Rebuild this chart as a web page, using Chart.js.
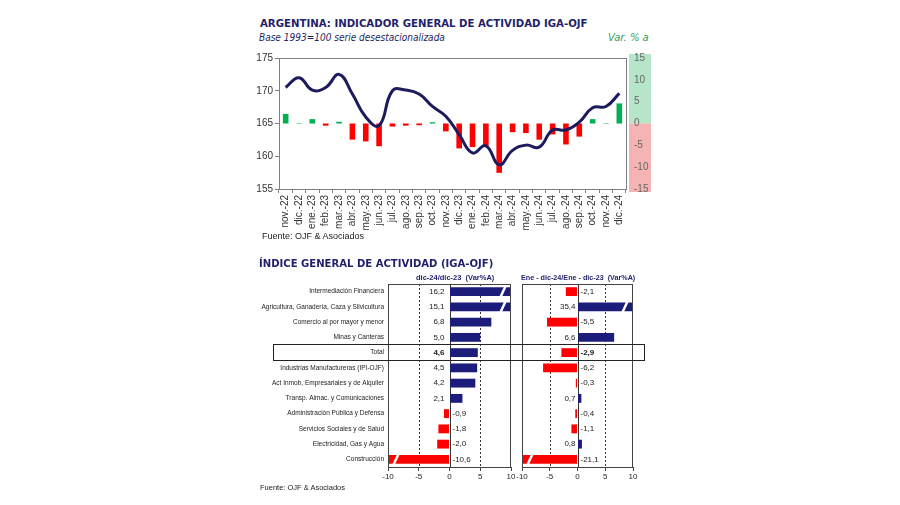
<!DOCTYPE html>
<html>
<head>
<meta charset="utf-8">
<script src="https://cdn.jsdelivr.net/npm/chart.js@4.4.1/dist/chart.umd.min.js"></script>
<style>
body { margin: 0; background: #fff; width: 900px; height: 505px; position: relative; overflow: hidden; }
.txt { position: absolute; white-space: nowrap; }
canvas { position: absolute; }
</style>
</head>
<body>
<div class="txt" style="left:260px;top:17px;font:bold 11.3px 'DejaVu Sans Condensed','DejaVu Sans';color:#1f1f6b;">ARGENTINA: INDICADOR GENERAL DE ACTIVIDAD IGA-OJF</div>
<div class="txt" style="left:259px;top:32px;font:italic 10px 'DejaVu Sans Condensed','DejaVu Sans';color:#1f1f5f;">Base 1993=100 serie desestacionalizada</div>
<div class="txt" style="left:608px;top:32px;font:italic 10px 'DejaVu Sans';color:#2e9e5e;">Var. % a</div>
<canvas id="c1" width="420" height="200" style="left:240px;top:44px;"></canvas>
<div class="txt" style="left:262px;top:231px;font:9px 'Liberation Sans',Arial;color:#222;">Fuente: OJF &amp; Asociados</div>

<div class="txt" style="left:259px;top:257px;font:bold 11.2px 'DejaVu Sans Condensed','DejaVu Sans';color:#1f1f6b;">ÍNDICE GENERAL DE ACTIVIDAD (IGA-OJF)</div>
<div class="txt" style="left:416px;top:273px;font:bold 7.5px 'Liberation Sans',Arial;color:#1f1f6b;">dic-24/dic-23&nbsp; (Var%A)</div>
<div class="txt" style="left:521px;top:273px;font:bold 7.2px 'Liberation Sans',Arial;color:#1f1f6b;">Ene - dic-24/Ene - dic-23&nbsp; (Var%A)</div>
<canvas id="c2" width="270" height="205" style="left:250px;top:280px;"></canvas>
<canvas id="c3" width="140" height="205" style="left:512px;top:280px;"></canvas>
<div style="position:absolute;left:273px;top:344px;width:372px;height:17px;box-sizing:border-box;border:1.5px solid #222;"></div>
<div class="txt" style="left:260px;top:483px;font:7.5px 'Liberation Sans',Arial;color:#222;">Fuente: OJF &amp; Asociados</div>

<script>
// serie mensual IGA-OJF
var months = ['nov.-22','dic.-22','ene.-23','feb.-23','mar.-23','abr.-23','may.-23','jun.-23',
    'jul.-23','ago.-23','sep.-23','oct.-23','nov.-23','dic.-23','ene.-24','feb.-24','mar.-24',
    'abr.-24','may.-24','jun.-24','jul.-24','ago.-24','sep.-24','oct.-24','nov.-24','dic.-24'];
var igaIndex = [170.5, 172.0, 170.1, 170.5, 172.5, 169.5, 166.0, 164.7, 170.0, 170.1, 169.5, 167.6, 166.1,
    163.3, 160.5, 161.6, 158.7, 160.9, 161.7, 161.4, 164.0, 164.0, 165.2, 167.4, 167.6, 169.6];
var igaVarYoY = [2.2, 0.1, 1.0, -0.5, 0.4, -3.7, -4.1, -5.2, -0.7, -0.5, -0.4, 0.3, -1.8,
    -5.7, -5.4, -5.2, -11.3, -2.0, -2.2, -3.7, -2.5, -4.8, -3.0, 1.0, 0.1, 4.6];

// apertura por sector
var sectors = ['Intermediación Financiera', 'Agricultura, Ganadería, Caza y Silvicultura',
    'Comercio al por mayor y menor', 'Minas y Canteras', 'Total',
    'Industrias Manufactureras (IPI-OJF)', 'Act Inmob, Empresariales y de Alquiler',
    'Transp. Almac. y Comunicaciones', 'Administración Pública y Defensa',
    'Servicios Sociales y de Salud', 'Electricidad, Gas y Agua', 'Construcción'];
var varDic = [16.2, 15.1, 6.8, 5.0, 4.6, 4.5, 4.2, 2.1, -0.9, -1.8, -2.0, -10.6];
var varAcum = [-2.1, 35.4, -5.5, 6.6, -2.9, -6.2, -0.3, 0.7, -0.4, -1.1, 0.8, -21.1];
var totalRow = 4;

var navy = '#1c1c7a';
var red = '#ff0000';
var green = '#00b050';

Chart.defaults.font.family = "'Liberation Sans', Arial, sans-serif";
Chart.defaults.color = '#333';

function fmt(v) {
    return v.toFixed(1).replace('.', ',');
}

// banda verde/roja del eje derecho + marco del area
var topFrame = {
    id: 'topFrame',
    beforeDraw: function(chart) {
        var ctx = chart.ctx, a = chart.chartArea;
        var z = chart.scales.y1.getPixelForValue(0);
        ctx.save();
        ctx.fillStyle = '#b6e5ca';
        ctx.fillRect(a.right + 3, a.top - 4, 22, z - a.top + 4);
        ctx.fillStyle = '#f6b3b3';
        ctx.fillRect(a.right + 3, z, 22, a.bottom - z + 3);
        ctx.restore();
    },
    afterDraw: function(chart) {
        var ctx = chart.ctx, a = chart.chartArea;
        ctx.save();
        ctx.strokeStyle = '#808080';
        ctx.lineWidth = 1;
        ctx.strokeRect(a.left + 0.5, a.top + 0.5, a.right - a.left, a.bottom - a.top);
        ctx.restore();
    }
};

new Chart(document.getElementById('c1'), {
    type: 'bar',
    data: {
        labels: months,
        datasets: [
            {type: 'line', data: igaIndex, yAxisID: 'y', borderColor: '#1b1b5e', borderWidth: 3,
             pointRadius: 0, tension: 0.45, order: 0},
            {type: 'bar', data: igaVarYoY, yAxisID: 'y1',
             backgroundColor: igaVarYoY.map(function(v) { return v >= 0 ? green : red; }),
             barPercentage: 0.42, categoryPercentage: 1, order: 1}
        ]
    },
    options: {
        responsive: false,
        animation: false,
        layout: {padding: {top: 10}},
        plugins: {legend: {display: false}, tooltip: {enabled: false}},
        scales: {
            x: {
                offset: true,
                grid: {offset: true, drawOnChartArea: false, tickLength: 4, color: '#808080'},
                border: {color: '#808080'},
                ticks: {font: {size: 10}, color: '#333', minRotation: 90, maxRotation: 90, autoSkip: false, padding: 2},
                afterFit: function(s) { s.height = 55; }
            },
            y: {
                min: 155, max: 175,
                ticks: {stepSize: 5, font: {size: 10}, color: '#333', padding: 2},
                grid: {drawOnChartArea: false, tickLength: 4, color: '#808080'},
                border: {color: '#808080'},
                afterFit: function(s) { s.width = 39; }
            },
            y1: {
                position: 'right', min: -15, max: 15,
                ticks: {stepSize: 5, font: {size: 10}, color: '#666', padding: 8},
                grid: {display: false, drawTicks: false},
                border: {display: false},
                afterFit: function(s) { s.width = 34; }
            }
        }
    },
    plugins: [topFrame]
});

// rejilla punteada, marco, cortes y etiquetas de valor
function hbarDeco(values, gapPos, gapNeg) {
    return {
        id: 'hbarDeco',
        beforeDatasetsDraw: function(chart) {
            var ctx = chart.ctx, a = chart.chartArea, x = chart.scales.x;
            ctx.save();
            ctx.strokeStyle = '#333';
            ctx.lineWidth = 1;
            ctx.setLineDash([2, 2]);
            [-5, 5].forEach(function(v) {
                var px = Math.round(x.getPixelForValue(v)) + 0.5;
                ctx.beginPath(); ctx.moveTo(px, a.top); ctx.lineTo(px, a.bottom); ctx.stroke();
            });
            ctx.setLineDash([]);
            var z = Math.round(x.getPixelForValue(0)) + 0.5;
            ctx.beginPath(); ctx.moveTo(z, a.top); ctx.lineTo(z, a.bottom); ctx.stroke();
            ctx.restore();
        },
        afterDraw: function(chart) {
            var ctx = chart.ctx, a = chart.chartArea, x = chart.scales.x;
            var z = x.getPixelForValue(0);
            var bars = chart.getDatasetMeta(0).data;
            ctx.save();
            ctx.strokeStyle = '#444';
            ctx.lineWidth = 1;
            ctx.strokeRect(a.left + 0.5, a.top + 0.5, a.right - a.left - 1, a.bottom - a.top);
            ctx.strokeStyle = '#fff';
            ctx.lineWidth = 2.5;
            bars.forEach(function(b, i) {
                var v = values[i];
                if (v > x.max || v < x.min) {
                    var cx = v > 0 ? a.right - 8 : a.left + 8;
                    var h = b.height / 2;
                    ctx.beginPath(); ctx.moveTo(cx - 2.5, b.y + h + 1); ctx.lineTo(cx + 2.5, b.y - h - 1); ctx.stroke();
                }
            });
            ctx.fillStyle = '#222';
            ctx.textBaseline = 'middle';
            bars.forEach(function(b, i) {
                var v = values[i];
                ctx.font = (i === totalRow ? 'bold ' : '') + "8px 'Liberation Sans', Arial";
                ctx.textAlign = v >= 0 ? 'right' : 'left';
                ctx.fillText(fmt(v), v >= 0 ? z - gapPos : z + gapNeg, b.y);
            });
            ctx.restore();
        }
    };
}

function hbarOptions(showLabels, padding) {
    return {
        indexAxis: 'y',
        responsive: false,
        animation: false,
        layout: {padding: padding},
        plugins: {legend: {display: false}, tooltip: {enabled: false}},
        scales: {
            x: {
                min: -10, max: 10,
                ticks: {stepSize: 5, font: {size: 8}, color: '#222', padding: 1},
                grid: {drawOnChartArea: false, tickLength: 4, color: '#444'},
                border: {display: false},
                afterFit: function(s) { s.height = 18; s.paddingLeft = 0; s.paddingRight = 0; }
            },
            y: {
                display: showLabels,
                ticks: {font: {size: 6.5}, color: '#222', padding: 4},
                grid: {display: false, drawTicks: false},
                border: {display: false},
                afterFit: function(s) {
                    if (showLabels) s.width = 138;
                    s.paddingTop = 0;
                    s.paddingBottom = 0;
                }
            }
        }
    };
}

new Chart(document.getElementById('c2'), {
    type: 'bar',
    data: {
        labels: sectors,
        datasets: [{data: varDic,
            backgroundColor: varDic.map(function(v) { return v >= 0 ? navy : red; }),
            barPercentage: 0.58, categoryPercentage: 1}]
    },
    options: hbarOptions(true, {top: 4, right: 9}),
    plugins: [hbarDeco(varDic, 5, 3)]
});

new Chart(document.getElementById('c3'), {
    type: 'bar',
    data: {
        labels: sectors,
        datasets: [{data: varAcum,
            backgroundColor: varAcum.map(function(v) { return v >= 0 ? navy : red; }),
            barPercentage: 0.58, categoryPercentage: 1}]
    },
    options: hbarOptions(false, {top: 4, left: 10, right: 19}),
    plugins: [hbarDeco(varAcum, 2, 3)]
});
</script>
</body>
</html>
